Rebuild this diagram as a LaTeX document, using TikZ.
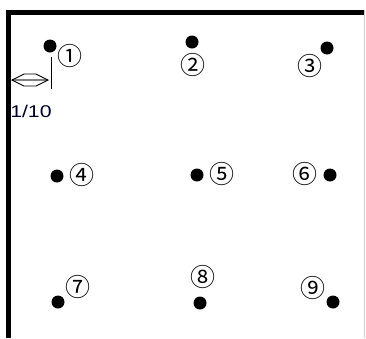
\documentclass[tikz,border=0pt]{standalone}
\usepackage{fontspec}
\setmainfont{Liberation Sans}
\newfontfamily\circfont{Noto Sans CJK JP}
\begin{document}
\begin{tikzpicture}[x=1pt,y=-1pt,
  dot/.style={circle,fill=black,inner sep=0pt,minimum size=13pt},
  num/.style={inner sep=0pt,font=\circfont\fontsize{25}{25}\selectfont},
  frame/.style={line width=5pt,black}]
\useasboundingbox (0,0) rectangle (366,338);
\fill[white] (0,0) rectangle (366,338);
\draw[gray!40,line width=0.8pt] (364.5,10) -- (364.5,338);
% text 1/10
\node[anchor=west,inner sep=0pt,xscale=1.25,font=\fontsize{17}{17}\selectfont,text=black!85!blue] (scale) at (10,111) {1/10};
% dots and labels
\node[dot] (d1) at (50,46) {};
\node[num] (n1) at (70,56) {①};
\node[dot] (d2) at (192,42) {};
\node[num] (n2) at (193,65) {②};
\node[dot] (d3) at (327,48) {};
\node[num] (n3) at (310,66) {③};
\node[dot] (d4) at (57,176) {};
\node[num] (n4) at (82,175) {④};
\node[dot] (d5) at (197,175) {};
\node[num] (n5) at (222,174) {⑤};
\node[dot] (d6) at (330,175) {};
\node[num] (n6) at (305,174) {⑥};
\node[dot] (d7) at (58,302) {};
\node[num] (n7) at (78,287) {⑦};
\node[dot] (d8) at (200,303) {};
\node[num] (n8) at (203,277) {⑧};
\node[dot] (d9) at (333,302) {};
\node[num] (n9) at (313,288) {⑨};
% dimension mark
\coordinate (ta) at (51,57);
\coordinate (tb) at (51,89);
\draw[line width=1pt] (ta) -- (tb);
\coordinate (al) at (12,80);
\coordinate (ar) at (48,80);
\draw[gray,line width=1.2pt] (al) -- (ar);
\draw[line width=0.9pt] (al) -- (24,74) -- (36,74) -- (ar) -- (36,86) -- (24,86) -- cycle;
% frame
\draw[frame] (8.5,338) -- (8.5,12.5) -- (364,12.5);
\end{tikzpicture}
\end{document}
